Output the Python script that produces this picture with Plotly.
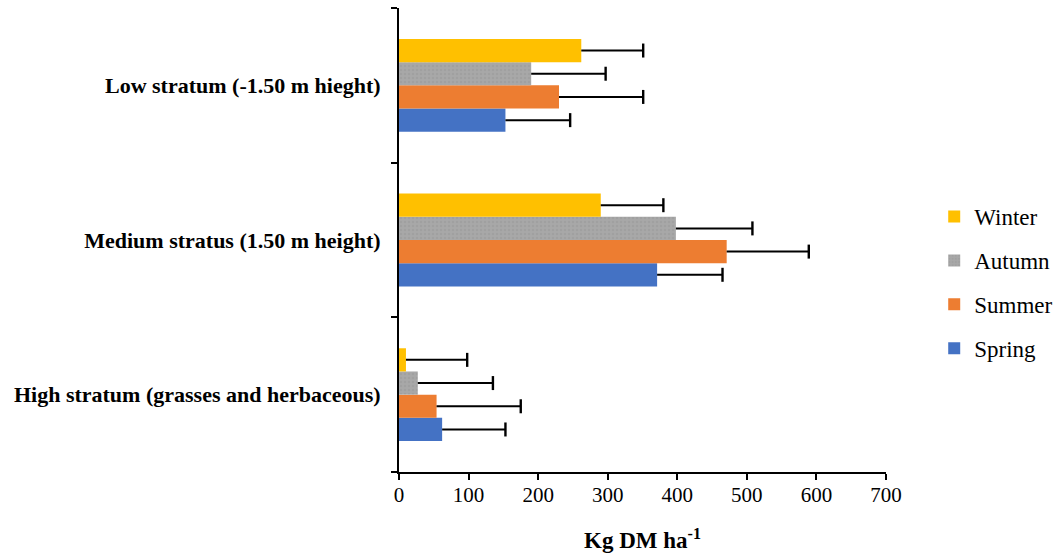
import plotly.graph_objects as go

categories = ["High stratum (grasses and herbaceous)",
              "Medium stratus (1.50 m height)",
              "Low stratum (-1.50 m hieght)"]
seasons = ["Spring", "Summer", "Autumn", "Winter"]
values = {
    "Spring": [62, 371, 153],
    "Summer": [54, 471, 230],
    "Autumn": [27, 398, 190],
    "Winter": [10, 290, 262],
}
errors = {
    "Spring": [91, 94, 93],
    "Summer": [121, 118, 121],
    "Autumn": [108, 110, 107],
    "Winter": [88, 90, 89],
}
colors = {"Spring": "#4472C4", "Summer": "#ED7D31", "Autumn": "#A5A5A5", "Winter": "#FFC000"}
legend_rank = {"Winter": 1, "Autumn": 2, "Summer": 3, "Spring": 4}
x_ticks = [0, 100, 200, 300, 400, 500, 600, 700]

FONT = "Liberation Serif"
fig = go.Figure()
for s in seasons:
    marker = dict(color=colors[s], line=dict(width=0))
    if s == "Autumn":
        marker["pattern"] = dict(shape=".", fgcolor="#979797", bgcolor="#A8A8A8",
                                 size=4, solidity=0.35)
    fig.add_trace(go.Bar(
        y=categories, x=values[s], name=s, orientation="h",
        marker=marker, legendgroup=s, legendrank=legend_rank[s],
        error_x=dict(type="data", symmetric=False, array=errors[s],
                     arrayminus=[0] * len(errors[s]), color="black",
                     thickness=2, width=0),
    ))
for s in seasons:
    fig.add_trace(go.Scatter(
        y=categories, x=[v + e for v, e in zip(values[s], errors[s])],
        mode="markers", orientation="h", showlegend=False, hoverinfo="skip",
        marker=dict(symbol="line-ns", size=10, line=dict(color="black", width=2.4)),
    ))

fig.update_layout(
    width=1058, height=554,
    margin=dict(l=399, r=172, t=8, b=82),
    paper_bgcolor="white", plot_bgcolor="white",
    barmode="group", bargap=0.4, bargroupgap=0,
    scattermode="group", scattergap=0.4,
    font=dict(family=FONT, color="black"),
    legend=dict(xref="container", yref="container", x=0.883, xanchor="left",
                y=0.49, yanchor="middle",
                traceorder="grouped", tracegroupgap=11,
                font=dict(family=FONT, size=23, color="black"),
                itemwidth=30, bgcolor="rgba(0,0,0,0)"),
    showlegend=True,
)
fig.update_xaxes(
    range=[0, 700], tickvals=x_ticks, ticks="outside", ticklen=6, tickwidth=2,
    tickcolor="black", showline=True, linecolor="black", linewidth=2,
    showgrid=False, zeroline=False, automargin=False,
    tickfont=dict(family=FONT, size=21, color="black"),
    ticklabelstandoff=-3,
    title=dict(text="<b>Kg DM ha<sup>-1</sup></b>", standoff=26,
               font=dict(family=FONT, size=23, color="black")),
)
fig.update_yaxes(
    type="category", categoryorder="array", categoryarray=categories,
    ticks="outside", tickson="boundaries", ticklen=6, tickwidth=2, tickcolor="black",
    showline=True, linecolor="black", linewidth=2, showgrid=False, automargin=False,
    tickfont=dict(family=FONT, size=22, color="black", weight="bold"),
    ticklabelstandoff=12,
)
fig.write_html("out.html", config={"displayModeBar": False},
               post_script="document.body.style.margin='0';")
